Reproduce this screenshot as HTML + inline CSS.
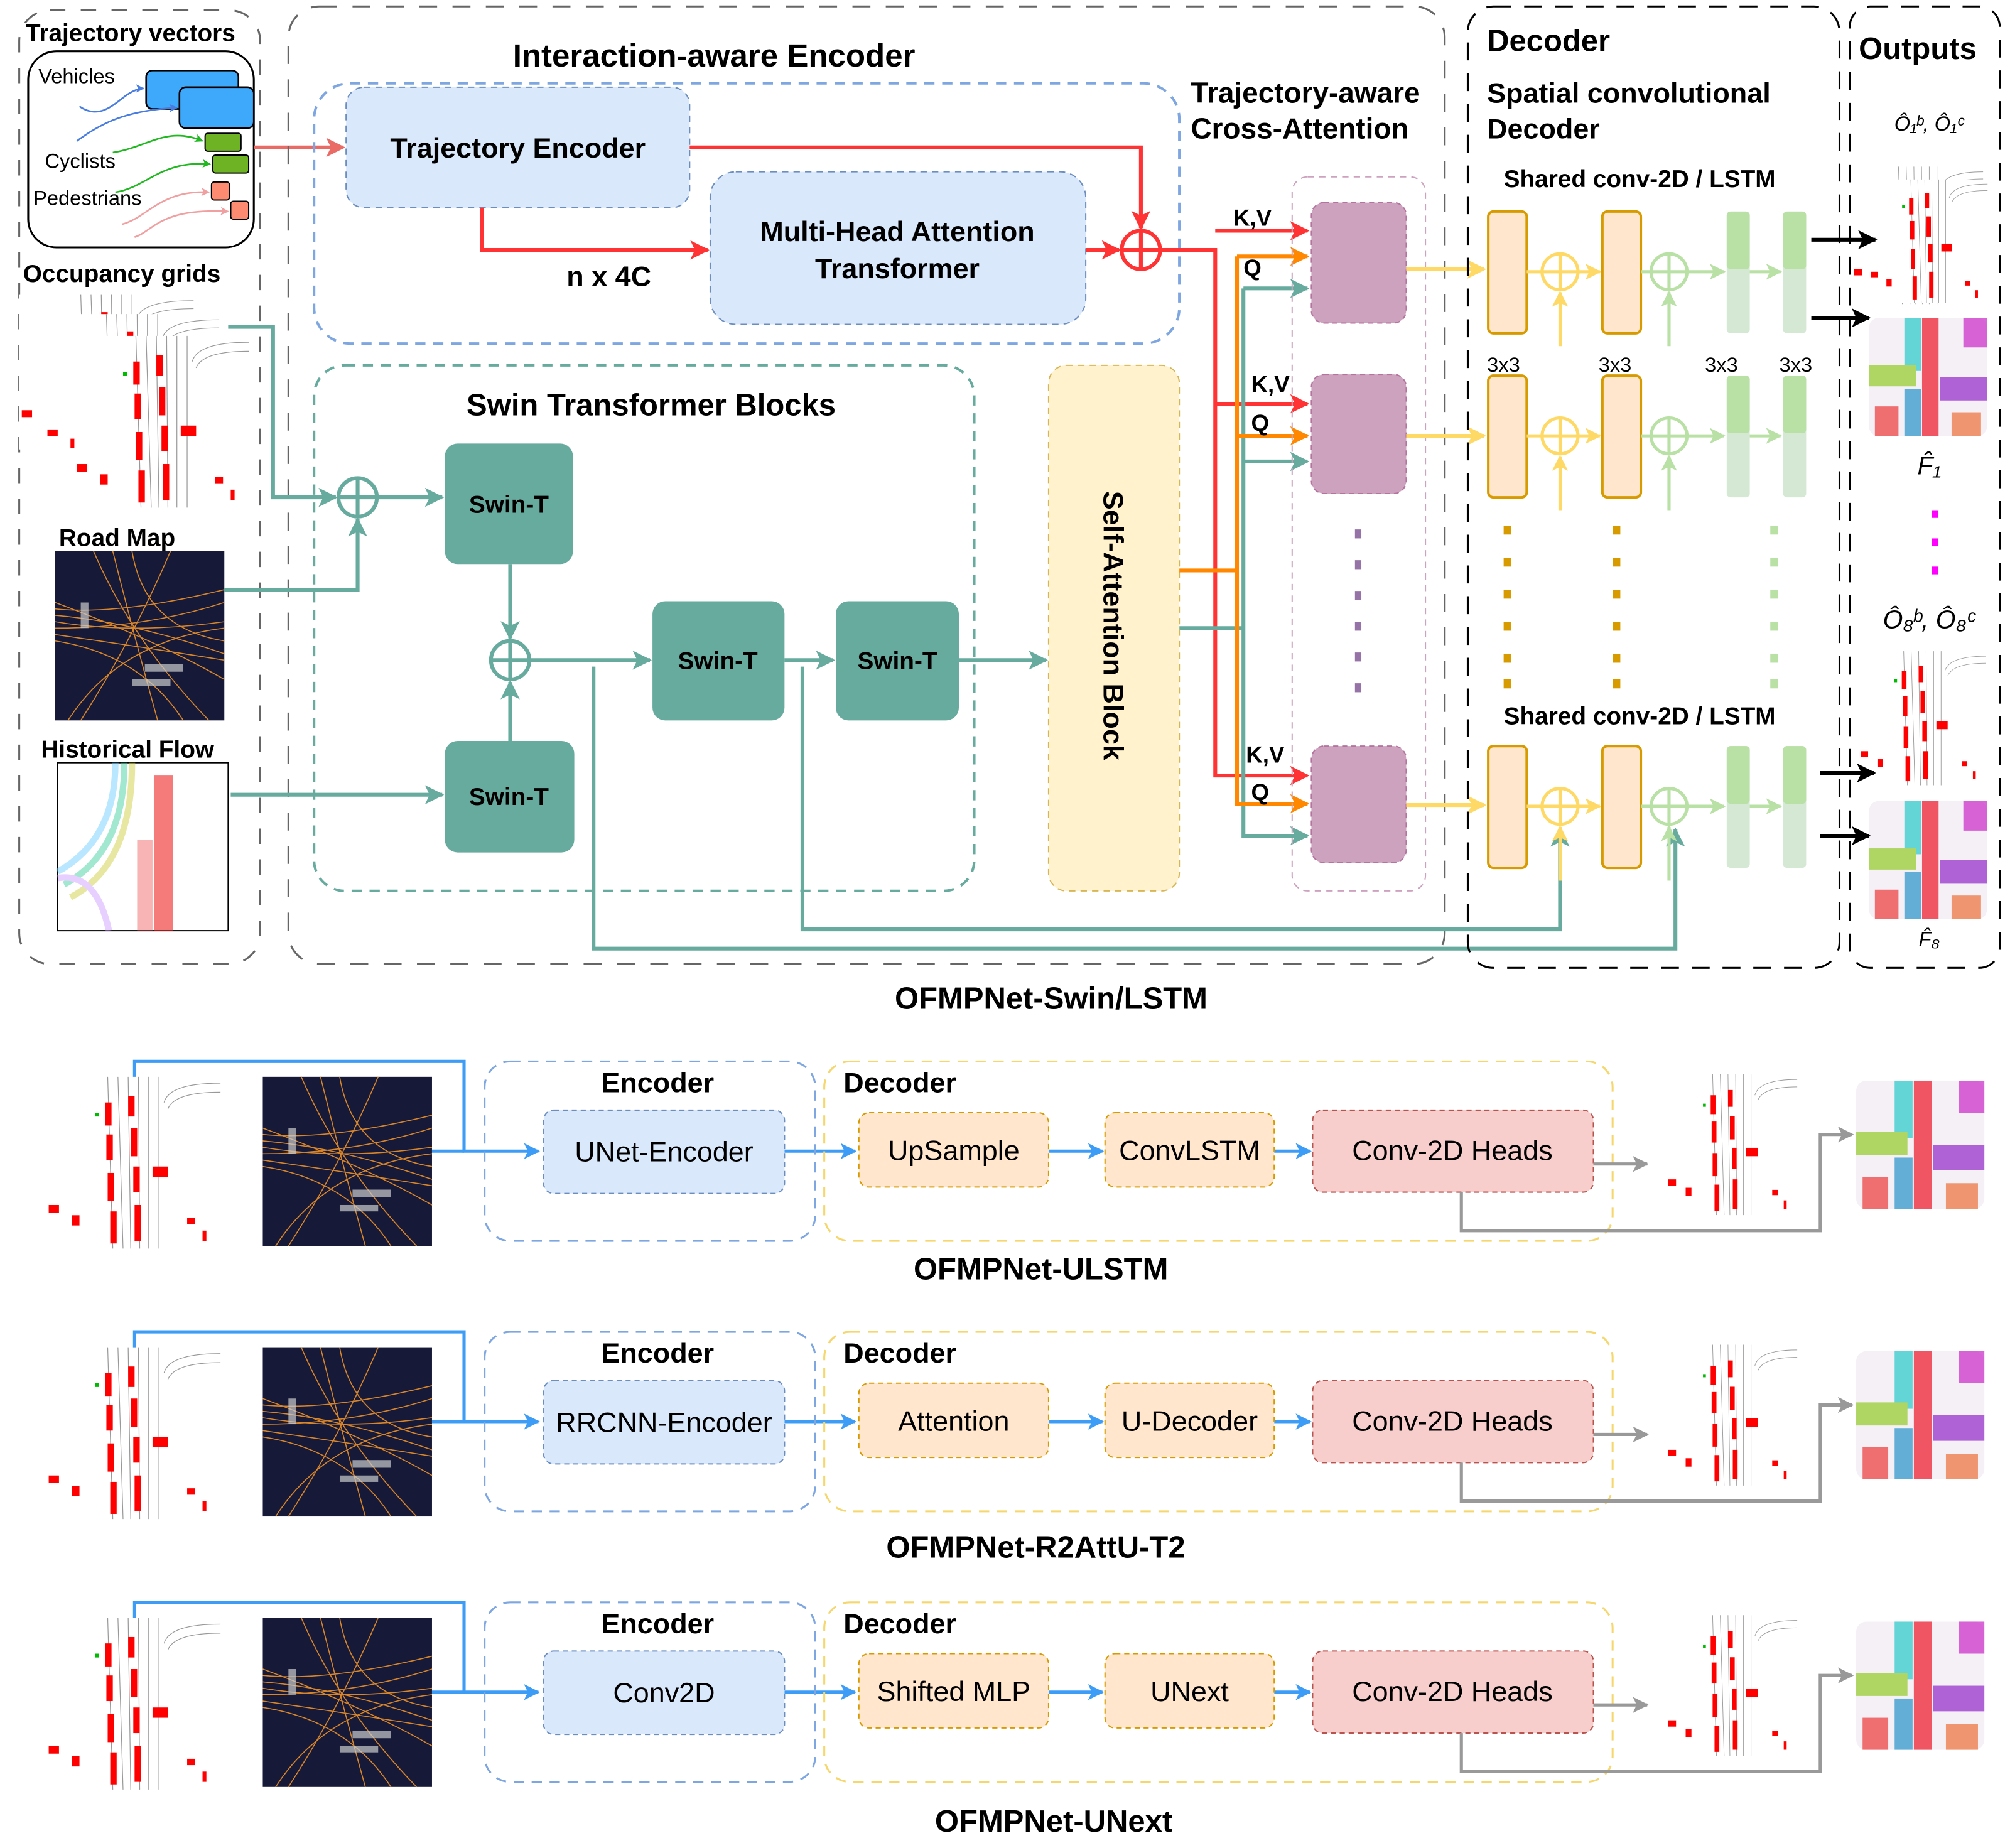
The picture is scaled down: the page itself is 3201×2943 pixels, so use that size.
<!DOCTYPE html>
<html><head><meta charset="utf-8"><style>
html,body{margin:0;padding:0;background:#fff}
svg{display:block}
text{font-family:"Liberation Sans",sans-serif}
.b{font-weight:bold}
</style></head><body>
<svg id="root" xmlns="http://www.w3.org/2000/svg" width="3201" height="2943" viewBox="0 0 1568 1441.6">
<defs>
<marker id="ar" markerWidth="5" markerHeight="5" refX="4.5" refY="2.5" orient="auto" markerUnits="strokeWidth"><path d="M0,0 L5,2.5 L0,5 L1.2,2.5 z" fill="context-stroke"/></marker>
<g id="occ">
<rect x="0" y="0" width="136" height="134" fill="#fff"/>
<g stroke="#999" stroke-width="0.6" fill="none"><line x1="48" y1="0" x2="52" y2="134"/><line x1="56" y1="0" x2="60" y2="134"/><line x1="64" y1="0" x2="66" y2="134"/><line x1="72" y1="0" x2="73" y2="134"/><line x1="80" y1="0" x2="80" y2="134"/><line x1="88" y1="0" x2="88" y2="134"/><path d="M92,20 Q96,5 136,5"/><path d="M95,25 Q100,12 136,12"/></g>
<g fill="#f00"><rect x="46" y="20" width="5" height="18"/><rect x="47" y="45" width="5" height="20"/><rect x="48" y="75" width="5" height="22"/><rect x="50" y="105" width="5" height="25"/><rect x="64" y="15" width="5" height="16"/><rect x="66" y="40" width="5" height="22"/><rect x="68" y="70" width="5" height="20"/><rect x="69" y="100" width="5" height="28"/><rect x="83" y="70" width="12" height="8"/><rect x="2" y="100" width="8" height="6"/><rect x="20" y="108" width="6" height="8"/><rect x="110" y="110" width="6" height="5"/><rect x="122" y="120" width="3" height="8"/></g>
<rect x="38" y="28" width="3" height="3" fill="#0b0"/>
</g>
<g id="road">
<rect width="132" height="132" fill="#161a38"/>
<g fill="none" stroke="#d9862a" stroke-width="0.8"><path d="M0,50 Q60,55 132,80"/><path d="M0,60 Q70,60 132,40"/><path d="M10,132 Q50,70 132,60"/><path d="M30,0 Q60,70 120,132"/><path d="M0,70 Q66,80 100,132"/><path d="M60,0 Q70,60 132,70"/><path d="M0,40 Q80,70 132,100"/><path d="M90,0 Q60,70 20,132"/><path d="M0,55 Q60,65 132,55"/><path d="M0,65 Q70,75 132,85"/><path d="M45,0 Q60,60 80,132"/><path d="M0,45 Q50,50 132,30"/></g>
<g fill="#ccc" opacity="0.7"><rect x="70" y="88" width="30" height="6"/><rect x="60" y="100" width="30" height="5"/><rect x="20" y="40" width="6" height="20"/></g>
</g>
<g id="flow">
<rect width="100" height="100" rx="8" fill="#f4f0f6"/>
<g opacity="0.75">
<rect x="45" y="0" width="14" height="100" fill="#e23"/>
<rect x="30" y="0" width="14" height="45" fill="#3cc"/>
<rect x="0" y="40" width="40" height="18" fill="#9c3"/>
<rect x="60" y="50" width="40" height="20" fill="#93c"/>
<rect x="80" y="0" width="20" height="25" fill="#c3c"/>
<rect x="5" y="75" width="20" height="25" fill="#e44"/>
<rect x="30" y="60" width="14" height="40" fill="#39c"/>
<rect x="70" y="80" width="25" height="20" fill="#e74"/>
</g>
</g>
<g id="hist">
<rect width="133" height="131" fill="#fff" stroke="#000"/>
<g fill="none" stroke-width="5" opacity="0.45"><path d="M45,0 Q45,60 0,85" stroke="#6cf"/><path d="M52,0 Q52,70 5,95" stroke="#3c9"/><path d="M58,0 Q58,80 10,105" stroke="#cc3"/><path d="M0,90 Q30,85 40,131" stroke="#c9f"/></g>
<rect x="75" y="10" width="15" height="121" fill="#e22" opacity="0.6"/>
<rect x="62" y="60" width="12" height="71" fill="#e44" opacity="0.4"/>
</g>
</defs>

<!-- LEFT INPUTS -->
<rect x="15" y="8" width="188" height="744" rx="24" fill="none" stroke="#666" stroke-width="1.5" stroke-dasharray="12,12"/>
<text class="b" x="20" y="32" font-size="19">Trajectory vectors</text>
<rect x="22" y="40" width="176" height="153" rx="22" fill="#fff" stroke="#000" stroke-width="1.5"/>
<text x="30" y="65" font-size="16">Vehicles</text>
<text x="35" y="131" font-size="16">Cyclists</text>
<text x="26" y="160" font-size="16">Pedestrians</text>
<g>
<rect x="114" y="55" width="72" height="30" rx="5" fill="#3ea8fb" stroke="#000" stroke-width="1.3"/>
<rect x="140" y="68" width="58" height="32" rx="5" fill="#3ea8fb" stroke="#000" stroke-width="1.3"/>
<rect x="160" y="104" width="28" height="14" rx="2" fill="#6db324" stroke="#000"/>
<rect x="166" y="121" width="28" height="14" rx="2" fill="#6db324" stroke="#000"/>
<rect x="165" y="142" width="14" height="14" rx="2" fill="#fc8b72" stroke="#000"/>
<rect x="180" y="157" width="14" height="14" rx="2" fill="#fc8b72" stroke="#000"/>
<g fill="none" stroke-width="1.3">
<path d="M62,83 C75,92 85,85 95,77 Q105,69 112,69" stroke="#4a7de0" marker-end="url(#ar)"/>
<path d="M116,113" stroke="none"/>
<path d="M60,110 C80,95 100,86 138,84" stroke="#4a7de0" marker-end="url(#ar)"/>
<path d="M88,119 C115,115 130,98 158,110" stroke="#22b822" marker-end="url(#ar)"/>
<path d="M90,150 C115,146 125,125 164,128" stroke="#22b822" marker-end="url(#ar)"/>
<path d="M95,175 C115,170 125,148 163,150" stroke="#f0a0a0" marker-end="url(#ar)"/>
<path d="M105,185 C120,180 125,162 178,165" stroke="#f0a0a0" marker-end="url(#ar)"/>
</g>
</g>
<text class="b" x="18" y="220" font-size="19">Occupancy grids</text>
<g>
<use href="#occ" transform="translate(15,230) scale(1,0.9)"/>
<use href="#occ" transform="translate(35,245) scale(1,0.9)"/>
<use href="#occ" transform="translate(58,262) scale(1,1)"/>
</g>
<text class="b" x="46" y="426" font-size="19">Road Map</text>
<use href="#road" x="43" y="430"/>
<text class="b" x="32" y="591" font-size="19">Historical Flow</text>
<use href="#hist" x="45" y="595"/>
<line x1="198" y1="115" x2="268" y2="115" stroke="#ea6b66" stroke-width="3" marker-end="url(#ar)"/>

<!-- ENCODER -->
<rect x="225" y="5" width="902" height="747" rx="24" fill="none" stroke="#666" stroke-width="1.5" stroke-dasharray="14,12"/>
<text class="b" x="557" y="52" font-size="25" text-anchor="middle">Interaction-aware Encoder</text>
<rect x="245" y="65" width="675" height="203" rx="28" fill="none" stroke="#7ea6e0" stroke-width="2" stroke-dasharray="8,6"/>
<rect x="270" y="68" width="268" height="94" rx="14" fill="#dae8fc" stroke="#6c8ebf" stroke-dasharray="5,4"/>
<text class="b" x="404" y="123" font-size="22" text-anchor="middle">Trajectory Encoder</text>
<rect x="554" y="134" width="293" height="119" rx="20" fill="#dae8fc" stroke="#6c8ebf" stroke-dasharray="5,4"/>
<text class="b" x="700" y="188" font-size="22" text-anchor="middle">Multi-Head Attention</text>
<text class="b" x="700" y="217" font-size="22" text-anchor="middle">Transformer</text>
<text class="b" x="475" y="223" font-size="22" text-anchor="middle">n x 4C</text>
<g fill="none" stroke="#f33" stroke-width="3">
<polyline points="538,115 890,115 890,178" marker-end="url(#ar)"/>
<polyline points="376,162 376,195 552,195" marker-end="url(#ar)"/>
<line x1="847" y1="195" x2="873" y2="195" marker-end="url(#ar)"/>
<circle cx="890" cy="195" r="15"/><line x1="875" y1="195" x2="905" y2="195"/><line x1="890" y1="180" x2="890" y2="210"/>
<polyline points="905,195 948,195 948,605 1020,605" marker-end="url(#ar)"/>
<polyline points="948,180 1020,180" marker-end="url(#ar)"/>
<polyline points="948,315 1020,315" marker-end="url(#ar)"/>
</g>
<text class="b" x="929" y="80" font-size="22.5">Trajectory-aware</text>
<text class="b" x="929" y="108" font-size="22.5">Cross-Attention</text>

<rect x="245" y="285" width="515" height="410" rx="24" fill="none" stroke="#67ab9f" stroke-width="2" stroke-dasharray="8,6"/>
<text class="b" x="508" y="324" font-size="24" text-anchor="middle">Swin Transformer Blocks</text>
<g fill="#67ab9f">
<rect x="347" y="346" width="100" height="94" rx="10"/>
<rect x="509" y="469" width="103" height="93" rx="10"/>
<rect x="652" y="469" width="96" height="93" rx="10"/>
<rect x="347" y="578" width="101" height="87" rx="10"/>
</g>
<g class="b" font-size="19" text-anchor="middle">
<text x="397" y="400">Swin-T</text><text x="560" y="522">Swin-T</text><text x="700" y="522">Swin-T</text><text x="397" y="628">Swin-T</text>
</g>
<g fill="none" stroke="#67ab9f" stroke-width="3">
<polyline points="178,255 213,255 213,388 262,388" marker-end="url(#ar)"/>
<polyline points="175,460 279,460 279,405" marker-end="url(#ar)"/>
<polyline points="180,620 345,620" marker-end="url(#ar)"/>
<line x1="294" y1="388" x2="345" y2="388" marker-end="url(#ar)"/>
<circle cx="279" cy="388" r="15"/><line x1="264" y1="388" x2="294" y2="388"/><line x1="279" y1="373" x2="279" y2="403"/>
<line x1="398" y1="440" x2="398" y2="498" marker-end="url(#ar)"/>
<line x1="398" y1="578" x2="398" y2="532" marker-end="url(#ar)"/>
<circle cx="398" cy="515" r="15"/><line x1="383" y1="515" x2="413" y2="515"/><line x1="398" y1="500" x2="398" y2="530"/>
<line x1="413" y1="515" x2="507" y2="515" marker-end="url(#ar)"/>
<line x1="612" y1="515" x2="650" y2="515" marker-end="url(#ar)"/>
<line x1="748" y1="515" x2="816" y2="515" marker-end="url(#ar)"/>
<polyline points="463,520 463,740 1307,740 1307,647" marker-end="url(#ar)"/>
<polyline points="626,520 626,725 1217,725 1217,647" marker-end="url(#ar)"/>
<polyline points="920,490 970,490"/>
<polyline points="970,225 970,652 1020,652" marker-end="url(#ar)"/>
<line x1="970" y1="225" x2="1020" y2="225" marker-end="url(#ar)"/>
<line x1="970" y1="360" x2="1020" y2="360" marker-end="url(#ar)"/>
</g>
<rect x="818" y="285" width="102" height="410" rx="14" fill="#fff2cc" stroke="#d6b656" stroke-dasharray="5,4"/>
<text class="b" font-size="22" text-anchor="middle" transform="translate(861,488) rotate(90)">Self-Attention Block</text>
<g fill="none" stroke="#f80" stroke-width="3">
<polyline points="920,445 965,445"/>
<polyline points="965,200 965,627 1020,627" marker-end="url(#ar)"/>
<line x1="965" y1="200" x2="1020" y2="200" marker-end="url(#ar)"/>
<line x1="965" y1="340" x2="1020" y2="340" marker-end="url(#ar)"/>
</g>
<g class="b" font-size="18">
<text x="962" y="176">K,V</text><text x="970" y="215">Q</text>
<text x="976" y="306">K,V</text><text x="976" y="336">Q</text>
<text x="972" y="595">K,V</text><text x="976" y="624">Q</text>
</g>
<rect x="1008" y="138" width="104" height="557" rx="12" fill="none" stroke="#cda2be" stroke-dasharray="5,4"/>
<g fill="#cda2be" stroke="#b5739d" stroke-dasharray="4,3">
<rect x="1023" y="158" width="74" height="94" rx="10"/>
<rect x="1023" y="292" width="74" height="93" rx="10"/>
<rect x="1023" y="582" width="74" height="91" rx="10"/>
</g>
<g fill="#9673a6"><rect x="1057" y="413" width="5" height="7"/><rect x="1057" y="437" width="5" height="7"/><rect x="1057" y="461" width="5" height="7"/><rect x="1057" y="485" width="5" height="7"/><rect x="1057" y="509" width="5" height="7"/><rect x="1057" y="533" width="5" height="7"/></g>
<g stroke="#ffd966" stroke-width="3">
<line x1="1097" y1="210" x2="1158" y2="210" marker-end="url(#ar)"/>
<line x1="1097" y1="340" x2="1158" y2="340" marker-end="url(#ar)"/>
<line x1="1097" y1="628" x2="1158" y2="628" marker-end="url(#ar)"/>
</g>

<!-- DECODER -->
<rect x="1145" y="5" width="290" height="750" rx="20" fill="none" stroke="#000" stroke-width="1.5" stroke-dasharray="14,10"/>
<text class="b" x="1160" y="40" font-size="24">Decoder</text>
<text class="b" x="1160" y="80" font-size="22">Spatial convolutional</text>
<text class="b" x="1160" y="108" font-size="22">Decoder</text>
<text class="b" x="1173" y="146" font-size="19">Shared conv-2D / LSTM</text>
<text class="b" x="1173" y="565" font-size="19">Shared conv-2D / LSTM</text>
<g font-size="16"><text x="1160" y="290">3x3</text><text x="1247" y="290">3x3</text><text x="1330" y="290">3x3</text><text x="1388" y="290">3x3</text></g>
<g><g fill="#d79b00"><rect x="1173" y="410" width="6" height="7"/><rect x="1173" y="435" width="6" height="7"/><rect x="1173" y="460" width="6" height="7"/><rect x="1173" y="485" width="6" height="7"/><rect x="1173" y="510" width="6" height="7"/><rect x="1173" y="530" width="6" height="7"/><rect x="1258" y="410" width="6" height="7"/><rect x="1258" y="435" width="6" height="7"/><rect x="1258" y="460" width="6" height="7"/><rect x="1258" y="485" width="6" height="7"/><rect x="1258" y="510" width="6" height="7"/><rect x="1258" y="530" width="6" height="7"/></g><g fill="#b9e0a5"><rect x="1381" y="410" width="6" height="7"/><rect x="1381" y="435" width="6" height="7"/><rect x="1381" y="460" width="6" height="7"/><rect x="1381" y="485" width="6" height="7"/><rect x="1381" y="510" width="6" height="7"/><rect x="1381" y="530" width="6" height="7"/></g></g>
<g id="decrow">
<rect x="1161" y="165" width="30" height="95" rx="4" fill="#ffe6cc" stroke="#d79b00" stroke-width="2"/>
<rect x="1250" y="165" width="30" height="95" rx="4" fill="#ffe6cc" stroke="#d79b00" stroke-width="2"/>
<rect x="1347" y="165" width="18" height="95" rx="3" fill="#d5e8d4"/><rect x="1347" y="165" width="18" height="45" rx="3" fill="#b9e0a5"/>
<rect x="1391" y="165" width="18" height="95" rx="3" fill="#d5e8d4"/><rect x="1391" y="165" width="18" height="45" rx="3" fill="#b9e0a5"/>
<g fill="none" stroke="#ffd966" stroke-width="2.5"><circle cx="1217" cy="212" r="14"/><line x1="1203" y1="212" x2="1231" y2="212"/><line x1="1217" y1="198" x2="1217" y2="226"/><line x1="1191" y1="212" x2="1203" y2="212"/><line x1="1231" y1="212" x2="1248" y2="212" marker-end="url(#ar)"/><line x1="1217" y1="270" x2="1217" y2="228" marker-end="url(#ar)"/></g>
<g fill="none" stroke="#b9e0a5" stroke-width="2.5"><line x1="1280" y1="212" x2="1288" y2="212"/><circle cx="1302" cy="212" r="14"/><line x1="1288" y1="212" x2="1316" y2="212"/><line x1="1302" y1="198" x2="1302" y2="226"/><line x1="1316" y1="212" x2="1345" y2="212" marker-end="url(#ar)"/><line x1="1365" y1="212" x2="1389" y2="212" marker-end="url(#ar)"/><line x1="1302" y1="270" x2="1302" y2="228" marker-end="url(#ar)"/></g>
</g>
<use href="#decrow" y="128"/>
<use href="#decrow" transform="translate(0,417)"/>

<!-- OUTPUTS -->
<rect x="1443" y="5" width="117" height="750" rx="16" fill="none" stroke="#000" stroke-width="1.5" stroke-dasharray="14,10"/>
<text class="b" x="1450" y="46" font-size="24">Outputs</text>
<text x="1505" y="102" font-size="16" font-family="Liberation Serif" font-style="italic" text-anchor="middle">Ô₁ᵇ, Ô₁ᶜ</text>
<g>
<use href="#occ" transform="translate(1445,130) scale(0.75,0.8)"/>
<use href="#occ" transform="translate(1458,140) scale(0.68,0.72)"/>
<use href="#flow" transform="translate(1458,248) scale(0.92,0.92)"/>
<use href="#occ" transform="translate(1450,508) scale(0.73,0.78)"/>
<use href="#flow" transform="translate(1458,625) scale(0.92,0.92)"/>
</g>
<text x="1505" y="370" font-size="20" font-family="Liberation Serif" font-style="italic" text-anchor="middle">F̂₁</text>
<g fill="#f0f"><rect x="1507" y="398" width="5" height="6"/><rect x="1507" y="420" width="5" height="6"/><rect x="1507" y="442" width="5" height="6"/></g>
<text x="1505" y="490" font-size="20" font-family="Liberation Serif" font-style="italic" text-anchor="middle">Ô₈ᵇ, Ô₈ᶜ</text>
<text x="1505" y="738" font-size="16" font-family="Liberation Serif" font-style="italic" text-anchor="middle">F̂₈</text>
<g stroke="#000" stroke-width="3">
<line x1="1413" y1="187" x2="1463" y2="187" marker-end="url(#ar)"/>
<line x1="1413" y1="248" x2="1458" y2="248" marker-end="url(#ar)"/>
<line x1="1420" y1="603" x2="1462" y2="603" marker-end="url(#ar)"/>
<line x1="1420" y1="652" x2="1458" y2="652" marker-end="url(#ar)"/>
</g>
<text class="b" x="820" y="787" font-size="24" text-anchor="middle">OFMPNet-Swin/LSTM</text>
<g id="rows"></g>
</svg>
<script>
var encLabels=["UNet-Encoder","RRCNN-Encoder","Conv2D"];
var dec1Labels=["UpSample","Attention","Shifted MLP"];
var dec2Labels=["ConvLSTM","U-Decoder","UNext"];
var captions=["OFMPNet-ULSTM","OFMPNet-R2AttU-T2","OFMPNet-UNext"];
var capX=[812,808,822];
var rowsG=document.getElementById('rows');
for(var i=0;i<3;i++){
var dy=i*211;
var s='<g transform="translate(0,'+dy+')">'+
'<use href="#occ" x="36" y="840"/><use href="#road" x="205" y="840"/>'+
'<g fill="none" stroke="#3d9cf5" stroke-width="2.5"><polyline points="105,840 105,828 362,828 362,898 420,898" marker-end="url(#ar)"/><line x1="337" y1="898" x2="362" y2="898"/>'+
'<line x1="612" y1="898" x2="667" y2="898" marker-end="url(#ar)"/><line x1="818" y1="898" x2="860" y2="898" marker-end="url(#ar)"/><line x1="994" y1="898" x2="1022" y2="898" marker-end="url(#ar)"/></g>'+
'<rect x="378" y="828" width="258" height="140" rx="20" fill="none" stroke="#7ea6e0" stroke-width="1.5" stroke-dasharray="8,6"/>'+
'<text class="b" x="513" y="852" font-size="22" text-anchor="middle">Encoder</text>'+
'<rect x="424" y="866" width="188" height="65" rx="8" fill="#dae8fc" stroke="#6c8ebf" stroke-dasharray="4,3"/>'+
'<text x="518" y="906" font-size="22" text-anchor="middle">'+encLabels[i]+'</text>'+
'<rect x="643" y="828" width="615" height="140" rx="20" fill="none" stroke="#f5d76e" stroke-width="1.5" stroke-dasharray="8,6"/>'+
'<text class="b" x="658" y="852" font-size="22">Decoder</text>'+
'<rect x="670" y="868" width="148" height="58" rx="8" fill="#ffe6cc" stroke="#d79b00" stroke-dasharray="4,3"/>'+
'<text x="744" y="905" font-size="22" text-anchor="middle">'+dec1Labels[i]+'</text>'+
'<rect x="862" y="868" width="132" height="58" rx="8" fill="#ffe6cc" stroke="#d79b00" stroke-dasharray="4,3"/>'+
'<text x="928" y="905" font-size="22" text-anchor="middle">'+dec2Labels[i]+'</text>'+
'<rect x="1024" y="866" width="219" height="64" rx="8" fill="#f8cecc" stroke="#b85450" stroke-dasharray="4,3"/>'+
'<text x="1133" y="905" font-size="22" text-anchor="middle">Conv-2D Heads</text>'+
'<g fill="none" stroke="#999" stroke-width="2.5"><line x1="1243" y1="908" x2="1285" y2="908" marker-end="url(#ar)"/><polyline points="1140,930 1140,960 1420,960 1420,885 1445,885" marker-end="url(#ar)"/></g>'+
'<use href="#occ" transform="translate(1300,838) scale(0.75,0.82)"/><use href="#flow" x="1448" y="843"/>'+
'<text class="b" x="'+capX[i]+'" y="'+(i==0?998:(i==1?1004:1007))+'" font-size="24" text-anchor="middle">'+captions[i]+'</text></g>';
rowsG.insertAdjacentHTML('beforeend',s);
var g=rowsG.lastElementChild;


}
</script>
</body></html>
